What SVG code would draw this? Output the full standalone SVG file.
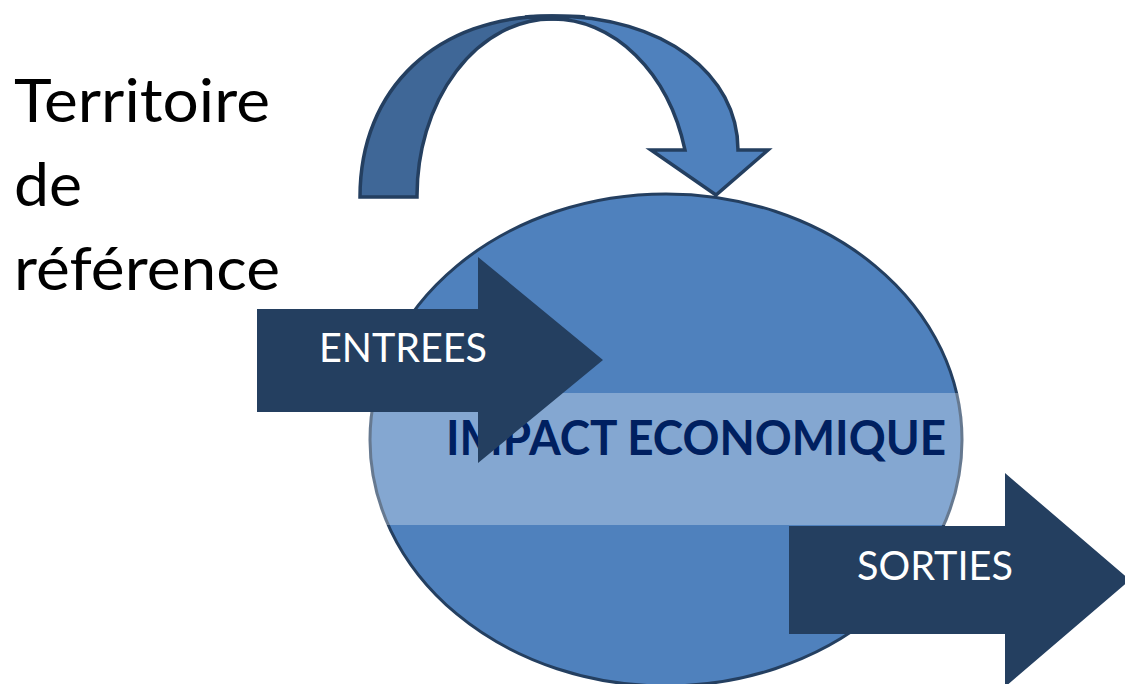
<svg xmlns="http://www.w3.org/2000/svg" width="1125" height="684" viewBox="0 0 1125 684">
  <style>
    .lbl { font-family: Lato, "Liberation Sans", sans-serif; }
    .big { font-size: 60px; fill: #000000; }
    .arrowtxt { font-size: 40px; fill: #ffffff; }
    .impact { font-size: 48px; font-weight: bold; fill: #002060; }
    .darrow { fill: #243f60; }
    .cstroke { stroke: #243f60; stroke-width: 3.5; stroke-linejoin: miter; }
  </style>
  <defs>
    <clipPath id="ellClip">
      <ellipse cx="666" cy="440" rx="298" ry="248"/>
    </clipPath>
  </defs>
  <rect width="1125" height="684" fill="#ffffff"/>

  <g id="territoire">
    <text class="lbl big" x="14" y="122" textLength="256" lengthAdjust="spacingAndGlyphs">Territoire</text>
    <text class="lbl big" x="14" y="206" textLength="68" lengthAdjust="spacingAndGlyphs">de</text>
    <text class="lbl big" x="14" y="290" textLength="266" lengthAdjust="spacingAndGlyphs">référence</text>
  </g>

  <g id="impact">
    <ellipse cx="666" cy="440" rx="296" ry="246" fill="#4f81bd" stroke="#243f60" stroke-width="3"/>
    <rect x="360" y="393" width="620" height="132" fill="#ffffff" fill-opacity="0.3" clip-path="url(#ellClip)"/>
    <text class="lbl impact" x="446" y="455" textLength="500" lengthAdjust="spacingAndGlyphs">IMPACT ECONOMIQUE</text>
  </g>

  <g id="connectors">
    <path class="cstroke" fill="#3f6797" d="M360,197 C360,88 437,16 552,16 C565,16 575,16 585,17 L552,19 A135,177 0 0 0 417,197 Z"/>
    <path class="cstroke" fill="#4f81bd" d="M525,17 C535,16 545,16 552,16 C665,16 738,75 738,150 L768,150 L716,195 L651,150 L685,150 A137,178 0 0 0 552,19 Z"/>
  </g>

  <g id="entrees">
    <path class="darrow" d="M257,309 L478,309 L478,257 L603,360 L478,463 L478,412 L257,412 Z"/>
    <text class="lbl arrowtxt" x="319" y="362" textLength="168" lengthAdjust="spacingAndGlyphs">ENTREES</text>
  </g>

  <g id="sorties">
    <path class="darrow" d="M789,526 L1005,526 L1005,473 L1130,580 L1005,687 L1005,634 L789,634 Z"/>
    <text class="lbl arrowtxt" x="857" y="580" textLength="156" lengthAdjust="spacingAndGlyphs">SORTIES</text>
  </g>
</svg>
